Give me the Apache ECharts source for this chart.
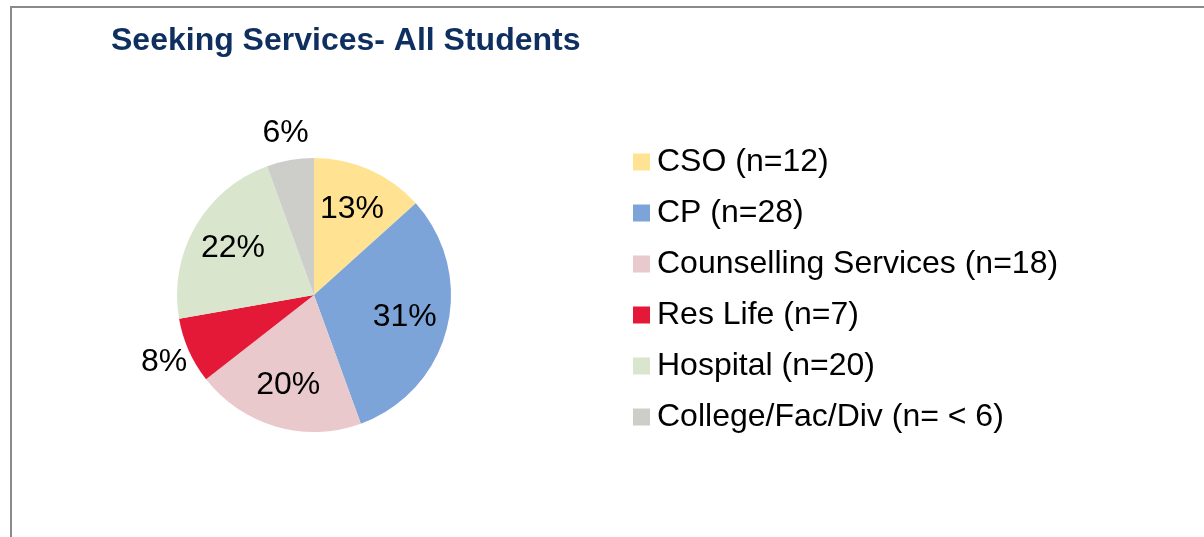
<!DOCTYPE html>
<html>
<head>
<meta charset="utf-8">
<script src="https://cdn.jsdelivr.net/npm/echarts@6/dist/echarts.min.js"></script>
<style>
  html, body { margin: 0; padding: 0; background: #fff; }
  #chart { width: 1204px; height: 537px; }
</style>
</head>
<body>
<div id="chart"></div>
<script>
// values (College/Fac/Div reported as n < 6)
const categories = [
  "CSO (n=12)",
  "CP (n=28)",
  "Counselling Services (n=18)",
  "Res Life (n=7)",
  "Hospital (n=20)",
  "College/Fac/Div (n= < 6)",
];
const counts = [12, 28, 18, 7, 20, 5];
const colors = ["#FFE393", "#7CA4D8", "#EAC9CD", "#E31937", "#D9E5CD", "#CDCDC9"];
// labels drawn outside the pie (the small slices)
const outsideLabels = ["Res Life (n=7)", "College/Fac/Div (n= < 6)"];

const chart = echarts.init(document.getElementById("chart"));

const font = "Liberation Sans, Arial, sans-serif";
const center = [314, 295];

const sliceData = categories.map((name, i) => ({
  name: name,
  value: counts[i],
  itemStyle: { color: colors[i] },
}));

const labelData = (outside) =>
  categories.map((name, i) => ({
    name: name,
    value: counts[i],
    label: { show: outsideLabels.includes(name) === outside },
  }));

const labelStyle = {
  position: "inside",
  formatter: "{d}%",
  color: "#000",
  fontFamily: font,
  fontSize: 32,
};

chart.setOption({
  animation: false,
  title: {
    text: "Seeking Services- All Students",
    left: 111,
    top: 25,
    padding: 0,
    textStyle: {
      color: "#0E2F5F",
      fontFamily: font,
      fontWeight: "bold",
      fontSize: 32,
    },
  },
  legend: {
    orient: "vertical",
    left: 633,
    top: 146,
    padding: 0,
    itemWidth: 17,
    itemHeight: 17,
    itemGap: 19,
    icon: "rect",
    selectedMode: false,
    data: categories,
    textStyle: {
      color: "#000",
      fontFamily: font,
      fontSize: 32,
      lineHeight: 32,
      padding: [0, 0, 0, 2],
    },
  },
  graphic: [
    {
      type: "polyline",
      shape: { points: [[11, 537], [11, 7], [1204, 7]] },
      style: { stroke: "#8A8A8A", lineWidth: 2, fill: null },
      silent: true,
    },
  ],
  series: [
    {
      type: "pie",
      name: "slices",
      center: center,
      radius: [0, 137],
      startAngle: 90,
      clockwise: true,
      percentPrecision: 0,
      silent: true,
      label: { show: false },
      labelLine: { show: false },
      itemStyle: { borderWidth: 0 },
      data: sliceData,
    },
    {
      type: "pie",
      name: "innerLabels",
      center: center,
      radius: [44, 137],
      startAngle: 90,
      clockwise: true,
      percentPrecision: 0,
      silent: true,
      legendHoverLink: false,
      itemStyle: { color: "rgba(0,0,0,0)", borderWidth: 0 },
      label: labelStyle,
      labelLine: { show: false },
      data: labelData(false),
    },
    {
      type: "pie",
      name: "outerLabels",
      center: center,
      radius: [142, 180],
      startAngle: 90,
      clockwise: true,
      percentPrecision: 0,
      silent: true,
      legendHoverLink: false,
      itemStyle: { color: "rgba(0,0,0,0)", borderWidth: 0 },
      label: labelStyle,
      labelLine: { show: false },
      data: labelData(true),
    },
  ],
});
</script>
</body>
</html>
